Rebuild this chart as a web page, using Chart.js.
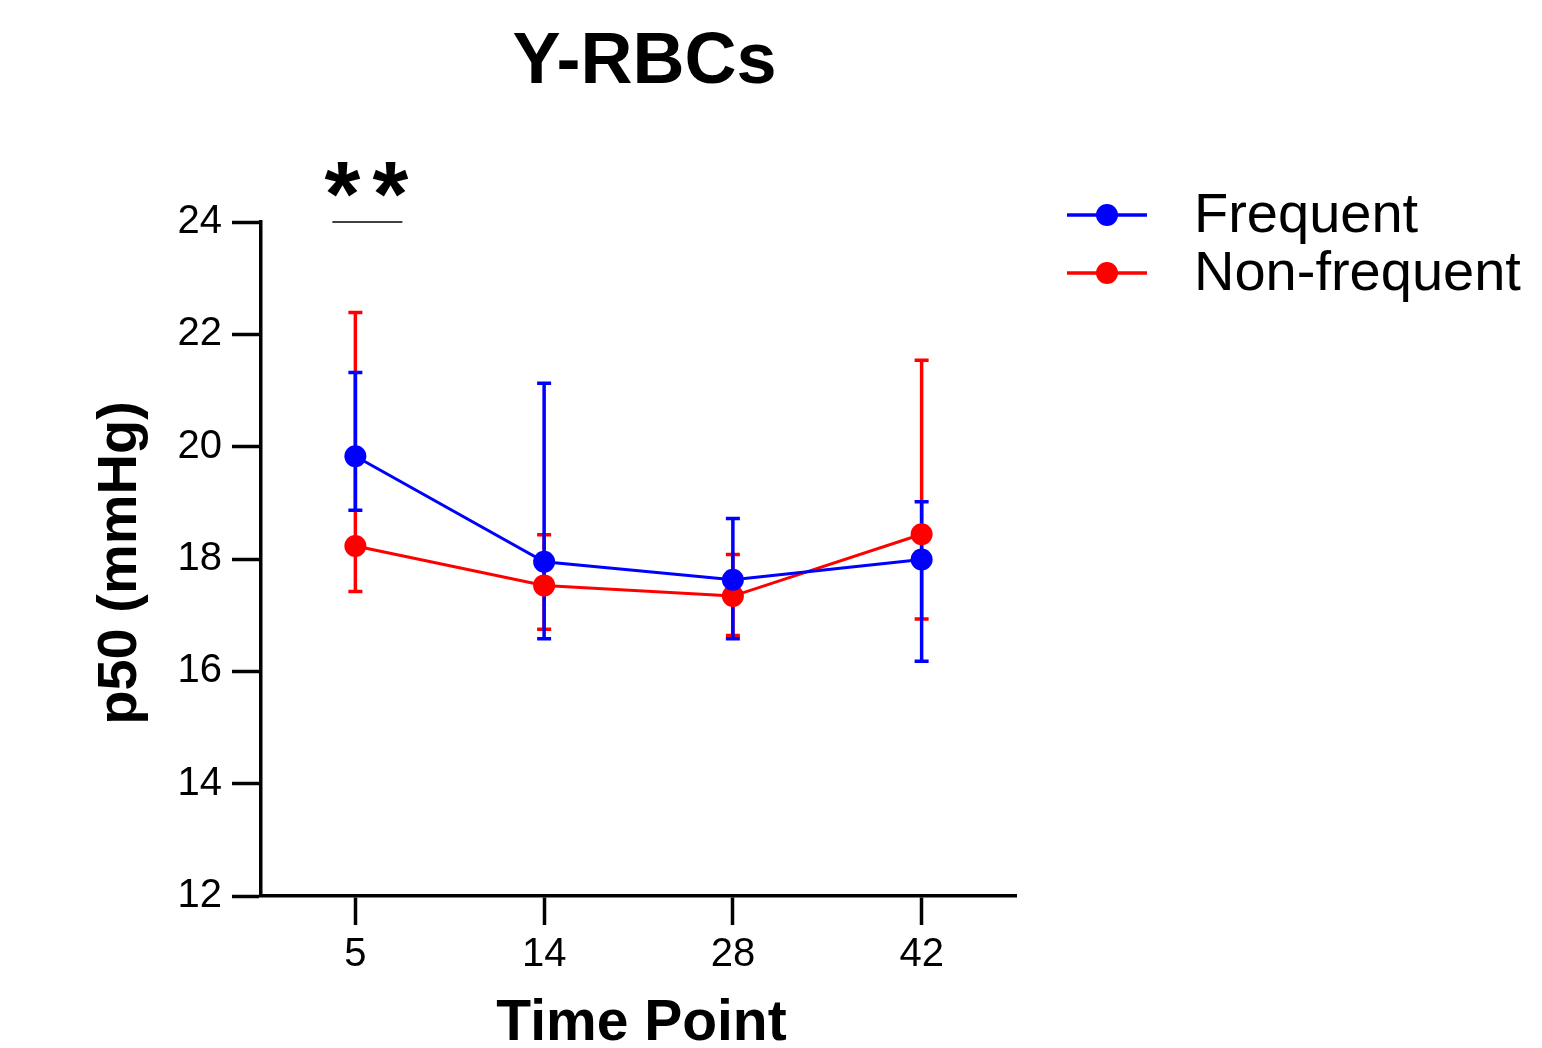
<!DOCTYPE html>
<html>
<head>
<meta charset="utf-8">
<title>Y-RBCs p50</title>
<script src="https://cdn.jsdelivr.net/npm/chart.js@4.4.1/dist/chart.umd.min.js"></script>
<style>
  html, body { margin: 0; padding: 0; background: #fff; }
  #wrap { width: 1542px; height: 1048px; position: relative; }
</style>
</head>
<body>
<div id="wrap"><canvas id="p50Chart"></canvas></div>
<script>
// Time points (days)
const timePoints = ["5", "14", "28", "42"];

// Frequent donors: mean + error bar ends
const frequentMean  = [19.83, 17.95, 17.63, 17.99];
const frequentUpper = [21.32, 21.13, 18.72, 19.02];
const frequentLower = [18.87, 16.58, 16.58, 16.18];

// Non-frequent donors
const nonFreqMean  = [18.23, 17.53, 17.34, 18.44];
const nonFreqUpper = [22.39, 18.43, 18.08, 21.54];
const nonFreqLower = [17.42, 16.75, 16.64, 16.93];

const yTicks = [12, 14, 16, 18, 20, 22, 24];

const BLUE = "rgb(0, 0, 255)";
const RED = "rgb(255, 0, 0)";
const FONT = "Arial, 'Liberation Sans', sans-serif";

// error bars go under the points, red first so blue sits on top
const errorBars = {
    id: "errorBars",
    beforeDatasetsDraw(chart) {
        const ctx = chart.ctx;
        const xs = chart.scales.x, ys = chart.scales.y;
        const sets = [
            { up: nonFreqUpper, lo: nonFreqLower, color: RED },
            { up: frequentUpper, lo: frequentLower, color: BLUE }
        ];
        ctx.save();
        sets.forEach(s => {
            ctx.strokeStyle = s.color;
            ctx.lineWidth = 3.5;
            s.up.forEach((u, i) => {
                const x = xs.getPixelForValue(i);
                const yu = ys.getPixelForValue(u);
                const yl = ys.getPixelForValue(s.lo[i]);
                ctx.beginPath();
                ctx.moveTo(x, yu); ctx.lineTo(x, yl);
                ctx.moveTo(x - 7, yu); ctx.lineTo(x + 7, yu);
                ctx.moveTo(x - 7, yl); ctx.lineTo(x + 7, yl);
                ctx.stroke();
            });
        });
        ctx.restore();
    }
};

// titles, legend and the significance mark
const decorations = {
    id: "decorations",
    afterDraw(chart) {
        const ctx = chart.ctx;
        const area = chart.chartArea;
        const xs = chart.scales.x, ys = chart.scales.y;
        ctx.save();
        ctx.fillStyle = "#000";
        ctx.textAlign = "center";
        ctx.textBaseline = "middle";

        ctx.font = "bold 72px " + FONT;
        ctx.fillText("Y-RBCs", (area.left + area.right) / 2 + 6, 63);

        ctx.font = "bold 57px " + FONT;
        ctx.fillText("Time Point", (area.left + area.right) / 2 + 3, 1024);

        ctx.font = "bold 56px " + FONT;
        ctx.save();
        ctx.translate(121, (area.top + area.bottom) / 2 + 4);
        ctx.rotate(-Math.PI / 2);
        ctx.fillText("p50 (mmHg)", 0, 0);
        ctx.restore();

        // ** over day 5
        const x0 = xs.getPixelForValue(0);
        const yTop = ys.getPixelForValue(24);
        ctx.font = "bold 92px " + FONT;
        ctx.textBaseline = "alphabetic";
        ctx.fillText("*", x0 - 13, yTop + 4);
        ctx.fillText("*", x0 + 35, yTop + 4);
        ctx.textBaseline = "middle";
        ctx.strokeStyle = "#000";
        ctx.lineWidth = 1.5;
        ctx.beginPath();
        ctx.moveTo(x0 - 23, yTop);
        ctx.lineTo(x0 + 47, yTop);
        ctx.stroke();

        // legend
        const items = [
            { label: "Frequent", color: BLUE, y: 215 },
            { label: "Non-frequent", color: RED, y: 273 }
        ];
        ctx.textAlign = "left";
        ctx.font = "56px " + FONT;
        items.forEach(it => {
            ctx.strokeStyle = it.color;
            ctx.lineWidth = 3.5;
            ctx.beginPath();
            ctx.moveTo(1067, it.y);
            ctx.lineTo(1147, it.y);
            ctx.stroke();
            ctx.fillStyle = it.color;
            ctx.beginPath();
            ctx.arc(1107, it.y, 11, 0, Math.PI * 2);
            ctx.fill();
            ctx.fillStyle = "#000";
            ctx.fillText(it.label, 1194, it.y + 2);
        });
        ctx.restore();
    }
};

new Chart(document.getElementById("p50Chart").getContext("2d"), {
    type: "line",
    data: {
        labels: timePoints,
        datasets: [
            {
                label: "Frequent",
                data: frequentMean,
                borderColor: BLUE,
                backgroundColor: BLUE,
                borderWidth: 3,
                pointRadius: 11,
                pointBorderWidth: 0,
                pointBackgroundColor: BLUE,
                tension: 0
            },
            {
                label: "Non-frequent",
                data: nonFreqMean,
                borderColor: RED,
                backgroundColor: RED,
                borderWidth: 3,
                pointRadius: 11,
                pointBorderWidth: 0,
                pointBackgroundColor: RED,
                tension: 0
            }
        ]
    },
    options: {
        responsive: true,
        maintainAspectRatio: false,
        animation: false,
        layout: { padding: { top: 222, right: 526, left: 0, bottom: 0 } },
        plugins: {
            legend: { display: false },
            title: { display: false },
            tooltip: { enabled: false }
        },
        scales: {
            x: {
                type: "category",
                offset: true,
                afterFit: s => { s.height = 152; },
                grid: {
                    drawOnChartArea: false,
                    drawTicks: true,
                    tickLength: 29,
                    tickWidth: 3.5,
                    tickColor: "#000",
                    offset: false
                },
                border: { display: true, color: "#000", width: 3.5 },
                ticks: {
                    color: "#000",
                    font: { family: FONT, size: 40 },
                    padding: 6,
                    maxRotation: 0
                }
            },
            y: {
                min: 12,
                max: 24,
                afterFit: s => { s.width = 261; },
                afterBuildTicks: s => { s.ticks = yTicks.map(v => ({ value: v })); },
                grid: {
                    drawOnChartArea: false,
                    drawTicks: true,
                    tickLength: 29,
                    tickWidth: 3.5,
                    tickColor: "#000"
                },
                border: { display: true, color: "#000", width: 3.5 },
                ticks: {
                    color: "#000",
                    font: { family: FONT, size: 40 },
                    padding: 10
                }
            }
        }
    },
    plugins: [errorBars, decorations]
});
</script>
</body>
</html>
